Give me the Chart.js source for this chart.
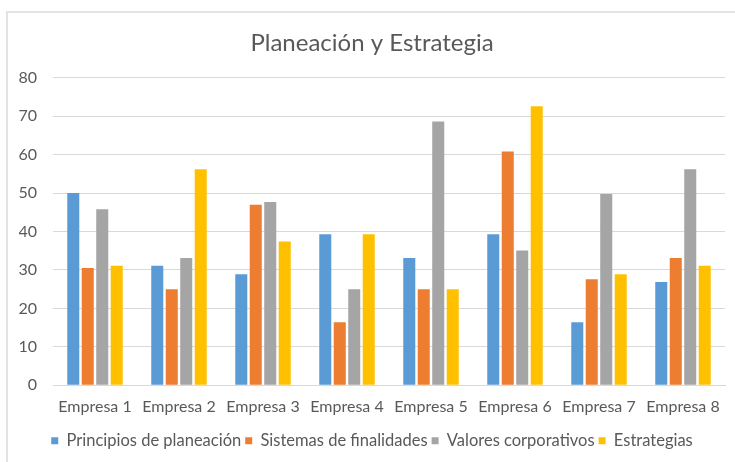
<!DOCTYPE html>
<html>
<head>
<meta charset="utf-8">
<script src="https://cdn.jsdelivr.net/npm/chart.js@4/dist/chart.umd.min.js"></script>
<style>
  html, body { margin: 0; padding: 0; background: #fff; }
  #wrap { position: relative; width: 735px; height: 462px; }
  #frame { position: absolute; left: 6px; top: 11px; width: 729px; height: 451px;
           border-left: 2px solid #e3e3e3; border-top: 2px solid #e3e3e3; box-sizing: border-box; }
  canvas { position: absolute; left: 0; top: 0; }
</style>
</head>
<body>
<div id="wrap">
  <div id="frame"></div>
  <canvas id="c" width="735" height="462"></canvas>
</div>
<script>
const categories = ["Empresa 1", "Empresa 2", "Empresa 3", "Empresa 4", "Empresa 5", "Empresa 6", "Empresa 7", "Empresa 8"];
const principios = [50, 31.1, 28.9, 39.3, 33.1, 39.3, 16.4, 26.9];
const sistemas = [30.5, 25, 47, 16.4, 25, 60.8, 27.6, 33.1];
const valores = [45.8, 33.1, 47.7, 25, 68.6, 35.1, 49.8, 56.2];
const estrategias = [31.1, 56.2, 37.4, 39.3, 25, 72.6, 28.9, 31.1];
const seriesNames = ["Principios de planeación", "Sistemas de finalidades", "Valores corporativos", "Estrategias"];
const yTicks = [0, 10, 20, 30, 40, 50, 60, 70, 80];

const colors = ["#5B9BD5", "#ED7D31", "#A5A5A5", "#FFC000"];
const seriesData = [principios, sistemas, valores, estrategias];
const FONT = "Lato, sans-serif";
const TXT = "#595959";

new Chart(document.getElementById('c'), {
  type: 'bar',
  data: {
    labels: categories,
    datasets: seriesData.map((d, i) => ({
      label: seriesNames[i],
      data: d,
      backgroundColor: colors[i],
      borderWidth: 0,
      categoryPercentage: 0.69,
      barPercentage: 0.83
    }))
  },
  options: {
    responsive: false,
    animation: false,
    layout: { padding: { left: 19, right: 10, top: 0, bottom: 3 } },
    plugins: {
      title: {
        display: true,
        text: "Planeación y Estrategia",
        color: TXT,
        font: { family: FONT, size: 24, weight: 'normal' },
        padding: { top: 29, bottom: 20 }
      },
      legend: {
        position: 'bottom',
        labels: {
          color: TXT,
          font: { family: FONT, size: 16.5 },
          boxWidth: 7, boxHeight: 7,
          padding: 4
        }
      },
      tooltip: { enabled: false }
    },
    scales: {
      x: {
        grid: { display: false, drawTicks: false },
        border: { color: '#d9d9d9' },
        ticks: { color: TXT, font: { family: FONT, size: 16 }, padding: 12, maxRotation: 0 }
      },
      y: {
        min: 0, max: 80,
        afterBuildTicks: s => { s.ticks = yTicks.map(v => ({ value: v })); },
        afterFit: s => { s.width = 34; },
        grid: { color: '#d9d9d9', drawTicks: false },
        border: { display: false },
        ticks: { color: TXT, font: { family: FONT, size: 16 }, padding: 16 }
      }
    }
  }
});
</script>
</body>
</html>
